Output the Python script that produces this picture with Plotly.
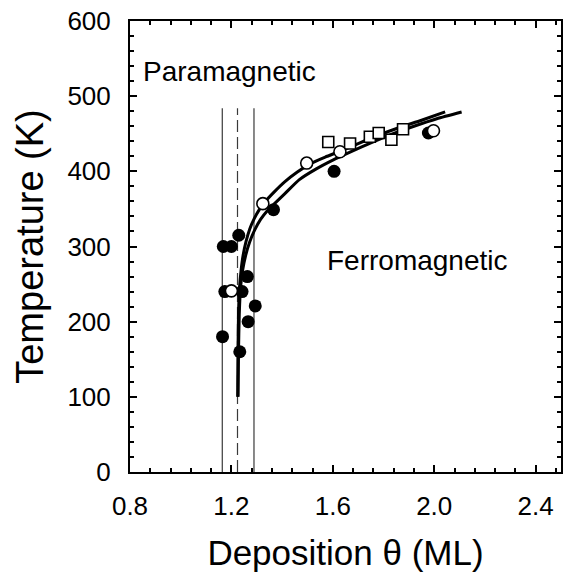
import plotly.graph_objects as go

# ---- data ----
filled_theta = [1.229, 1.168, 1.200, 1.263, 1.174, 1.242, 1.294, 1.266, 1.165, 1.233, 1.366, 1.605, 1.977]
filled_T     = [315,   300,   300,   260,   240,   240,   221,   200,   180,   160,   349,   400,   451]

open_theta = [1.200, 1.324, 1.497, 1.628, 1.997]
open_T     = [241,   357,   411,   426,   454]

square_theta = [1.582, 1.668, 1.746, 1.781, 1.831, 1.877]
square_T     = [439,   437,   446,   451,   442,   456]

curveA_theta = [1.225, 1.226, 1.228, 1.232, 1.238, 1.246, 1.258, 1.272, 1.29, 1.31, 1.334, 1.37, 1.41, 1.46, 1.51, 1.57, 1.63, 1.70, 1.78, 1.86, 1.95, 2.043]
curveA_T     = [100,   160,   210,   245,   268,   288,   307,   323,   337,  349,  360,   373,  386,  399,  410,  419,  427,  437,  448,  458,  468,  479]

curveB_theta = [1.226, 1.228, 1.231, 1.236, 1.244, 1.256, 1.272, 1.292, 1.315, 1.34, 1.37, 1.41, 1.468, 1.533, 1.60, 1.67, 1.75, 1.83, 1.92, 2.01, 2.108]
curveB_T     = [100,   160,   210,   245,   268,   288,   306,   322,   336,   347,  357,  370,  389,   403,   415,  426,  438,  449,  460,  470,  479]

boundary_theta = [1.164, 1.224, 1.289]
boundary_T = [0, 484]

x_ticks = [0.8, 1.2, 1.6, 2.0, 2.4]
x_ticktext = ["0.8", "1.2", "1.6", "2.0", "2.4"]
y_ticks = [0, 100, 200, 300, 400, 500, 600]

FONT = "Liberation Sans, Arial, sans-serif"

fig = go.Figure()

# vertical phase-boundary lines
for i, th in enumerate(boundary_theta):
    fig.add_trace(go.Scatter(
        x=[th, th], y=boundary_T, mode="lines",
        line=dict(color="#3a3a3a", width=1.2, dash="12px,5px" if i == 1 else "solid"),
        showlegend=False, hoverinfo="skip"))

# fitted curves
for cx, cy in [(curveA_theta, curveA_T), (curveB_theta, curveB_T)]:
    fig.add_trace(go.Scatter(
        x=cx, y=cy, mode="lines", line=dict(color="black", width=3, shape="spline", smoothing=0.6),
        showlegend=False, hoverinfo="skip"))

fig.add_trace(go.Scatter(
    x=filled_theta, y=filled_T, mode="markers",
    marker=dict(symbol="circle", size=13, color="black", line=dict(color="black", width=0)),
    showlegend=False))
fig.add_trace(go.Scatter(
    x=square_theta, y=square_T, mode="markers",
    marker=dict(symbol="square", size=11, color="white", line=dict(color="black", width=1.6)),
    showlegend=False))
fig.add_trace(go.Scatter(
    x=open_theta, y=open_T, mode="markers",
    marker=dict(symbol="circle", size=12, color="white", line=dict(color="black", width=1.6)),
    showlegend=False))

fig.add_annotation(x=0.843, y=533, text="Paramagnetic", showarrow=False,
                   xanchor="left", yanchor="middle", font=dict(family=FONT, size=28, color="black"))
fig.add_annotation(x=1.568, y=282, text="Ferromagnetic", showarrow=False,
                   xanchor="left", yanchor="middle", font=dict(family=FONT, size=28, color="black"))

fig.update_layout(
    width=569, height=578,
    margin=dict(l=129.5, r=6, t=21, b=106),
    paper_bgcolor="white", plot_bgcolor="white",
    font=dict(family=FONT, color="black"),
)
fig.update_xaxes(
    range=[0.8, 2.5], tickvals=x_ticks, ticktext=x_ticktext,
    showgrid=False, zeroline=False,
    showline=True, linecolor="black", linewidth=2, mirror="allticks",
    ticks="inside", ticklen=7, tickwidth=1.5, tickcolor="black",
    minor=dict(dtick=0.08, tick0=0.8, ticks="inside", ticklen=4, tickwidth=1.5, tickcolor="black"),
    tickfont=dict(family=FONT, size=26), ticklabelstandoff=10,
    title=dict(text="Deposition θ (ML)", font=dict(family=FONT, size=35), standoff=20),
)
fig.update_yaxes(
    range=[0, 600], tickvals=y_ticks,
    showgrid=False, zeroline=False,
    showline=True, linecolor="black", linewidth=2, mirror="allticks",
    ticks="inside", ticklen=7, tickwidth=1.5, tickcolor="black",
    minor=dict(dtick=20, tick0=0, ticks="inside", ticklen=4, tickwidth=1.5, tickcolor="black"),
    tickfont=dict(family=FONT, size=26), ticklabelstandoff=12,
    title=dict(text="Temperature (K)", font=dict(family=FONT, size=38), standoff=12),
)

fig.write_html("out.html")
